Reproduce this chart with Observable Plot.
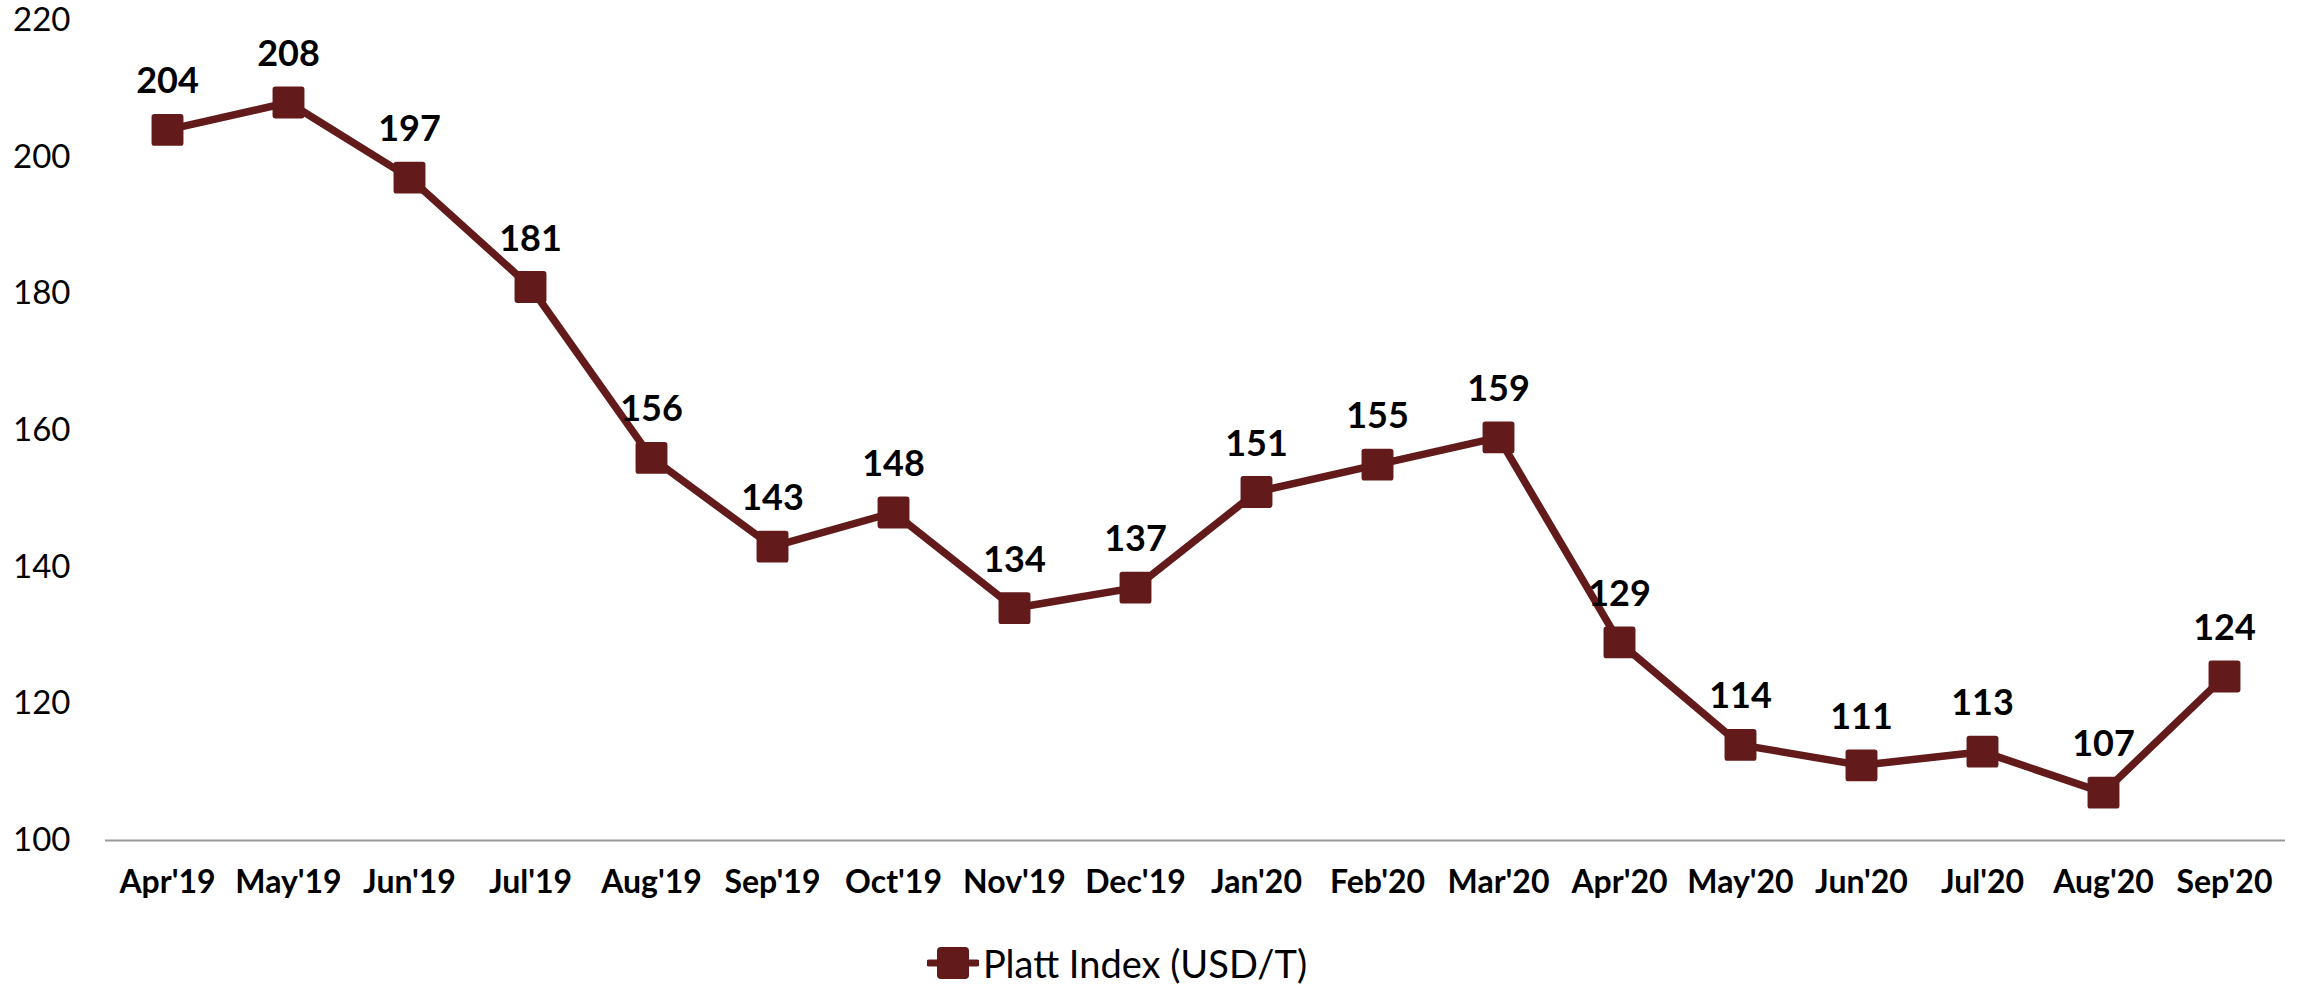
<!DOCTYPE html>
<html>
<head>
<meta charset="utf-8">
<script src="https://cdn.jsdelivr.net/npm/d3@7"></script>
<script src="https://cdn.jsdelivr.net/npm/@observablehq/plot@0.6"></script>
<style>
  body { margin: 0; background: #fff; font-family: Lato, "Open Sans", sans-serif; }
  #legend { height: 46px; display: flex; justify-content: center; align-items: center; font-size: 38px; color: #000; transform: translateX(-38px); }
  #legend svg { margin-right: 4px; }
</style>
</head>
<body>
<div id="chart"></div>
<div id="legend"></div>
<script>
const months = ["Apr'19","May'19","Jun'19","Jul'19","Aug'19","Sep'19","Oct'19","Nov'19","Dec'19","Jan'20","Feb'20","Mar'20","Apr'20","May'20","Jun'20","Jul'20","Aug'20","Sep'20"];
const values = [204, 208, 197, 181, 156, 143, 148, 134, 137, 151, 155, 159, 129, 114, 111, 113, 107, 124];
const yTicks = [100, 120, 140, 160, 180, 200, 220];
const seriesName = "Platt Index (USD/T)";
const color = "#621a1b";

const data = months.map((m, i) => ({month: m, value: values[i]}));

// rounded square symbol
const roundedSquare = {
  draw(context, size) {
    const s = Math.sqrt(size) / 2;
    const r = s * 0.18;
    context.moveTo(-s + r, -s);
    context.lineTo(s - r, -s);
    context.arcTo(s, -s, s, -s + r, r);
    context.lineTo(s, s - r);
    context.arcTo(s, s, s - r, s, r);
    context.lineTo(-s + r, s);
    context.arcTo(-s, s, -s, s - r, r);
    context.lineTo(-s, -s + r);
    context.arcTo(-s, -s, -s + r, -s, r);
    context.closePath();
  }
};

const chart = Plot.plot({
  width: 2310,
  height: 940,
  marginLeft: 105,
  marginRight: 25,
  marginTop: 20,
  marginBottom: 100,
  style: {fontFamily: "Lato, 'Open Sans', sans-serif", background: "#fff", color: "#000"},
  x: {type: "point", domain: months, padding: 0.5, label: null},
  y: {domain: [100, 220], label: null},
  marks: [
    Plot.axisY({ticks: yTicks, tickSize: 0, tickPadding: 35, fontSize: 33, label: null}),
    Plot.axisX({tickSize: 0, tickPadding: 30, fontSize: 32, fontWeight: "bold", label: null}),
    Plot.ruleY([100], {stroke: "#999", strokeWidth: 2}),
    Plot.line(data, {x: "month", y: "value", stroke: color, strokeWidth: 7.5, strokeLinejoin: "round"}),
    Plot.dot(data, {x: "month", y: "value", symbol: roundedSquare, r: 18, fill: color, stroke: "none"}),
    Plot.text(data, {x: "month", y: "value", text: d => String(d.value), dy: -48, fontSize: 36, fontWeight: "bold", fill: "#000"})
  ]
});
document.getElementById("chart").appendChild(chart);

// legend
const lg = document.getElementById("legend");
const ns = "http://www.w3.org/2000/svg";
const sv = document.createElementNS(ns, "svg");
sv.setAttribute("width", 52); sv.setAttribute("height", 36);
const ln = document.createElementNS(ns, "line");
ln.setAttribute("x1", 2); ln.setAttribute("x2", 50); ln.setAttribute("y1", 18); ln.setAttribute("y2", 18);
ln.setAttribute("stroke", color); ln.setAttribute("stroke-width", 7); ln.setAttribute("stroke-linecap", "round");
const rc = document.createElementNS(ns, "rect");
rc.setAttribute("x", 10); rc.setAttribute("y", 2); rc.setAttribute("width", 32); rc.setAttribute("height", 32);
rc.setAttribute("rx", 4); rc.setAttribute("fill", color);
sv.appendChild(ln); sv.appendChild(rc);
lg.appendChild(sv);
const sp = document.createElement("span");
sp.textContent = seriesName;
lg.appendChild(sp);
</script>
</body>
</html>
